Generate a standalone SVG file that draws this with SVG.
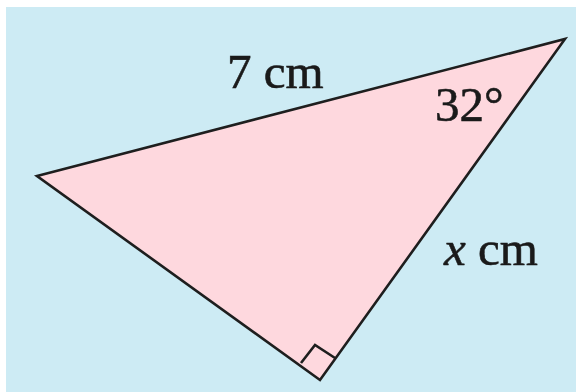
<svg xmlns="http://www.w3.org/2000/svg" width="576" height="392" viewBox="0 0 576 392">
<style>
.lbl{font-family:"Liberation Serif","DejaVu Serif",serif;font-size:49px;fill:#1a1a1a;stroke:#1a1a1a;stroke-width:0.6}
.edge{stroke:#1e1e1e;stroke-width:2.6;stroke-linejoin:miter;fill:none}
</style>
<rect x="6" y="7" width="570" height="385" fill="#cdebf4"/>
<g id="triangle">
<polygon points="37,176 565,39 320,380" fill="#fed8de" stroke="#1e1e1e" stroke-width="2.6" stroke-linejoin="miter"/>
</g>
<g id="right-angle">
<polyline class="edge" points="301,363 315,345 335,358"/>
</g>
<g id="labels">
<text class="lbl" x="227" y="88">7 cm</text>
<text class="lbl" x="435" y="121">32°</text>
<text class="lbl" x="444" y="265"><tspan font-style="italic">x</tspan> cm</text>
</g>
</svg>
